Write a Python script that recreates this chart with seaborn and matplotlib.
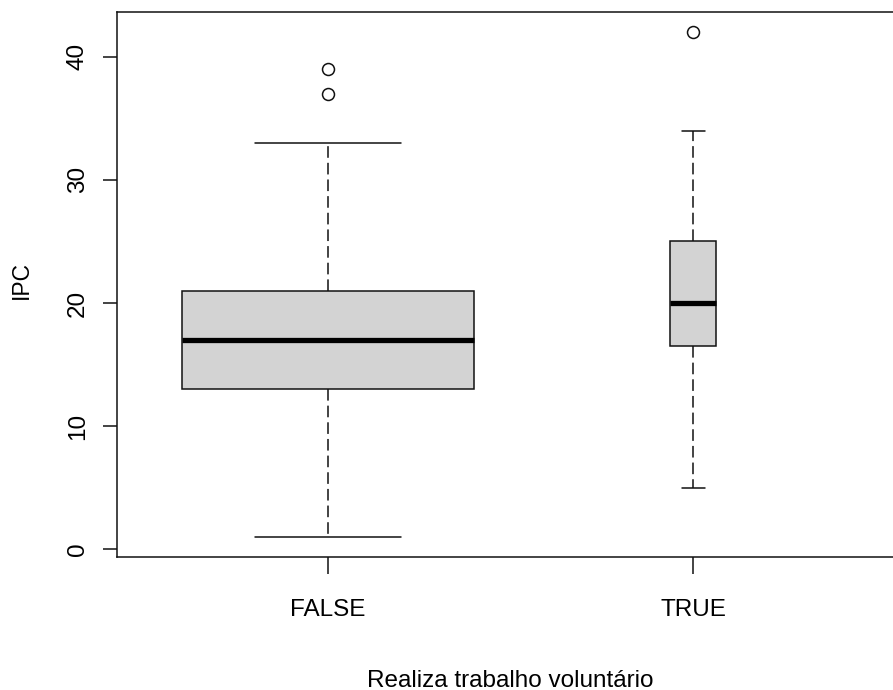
import matplotlib
matplotlib.use("Agg")
import matplotlib.pyplot as plt
import seaborn as sns
import pandas as pd

# ---- data ----
categories = ["FALSE", "TRUE"]
medians = [17, 20]
q1s = [13, 16.5]
q3s = [21, 25]
whisker_low = [1, 5]
whisker_high = [33, 34]
outliers = [[37, 39], [42]]
yticks = [0, 10, 20, 30, 40]
xlabel = "Realiza trabalho voluntário"
ylabel = "IPC"

# relative box widths (varwidth boxplot)
box_widths = [0.80, 0.126]

sns.set_style("white")
plt.rcParams["font.family"] = ["Liberation Sans", "DejaVu Sans"]
plt.rcParams["text.color"] = "black"
plt.rcParams["axes.labelcolor"] = "black"

stats_df = pd.DataFrame({
    "label": categories, "med": medians, "q1": q1s, "q3": q3s,
    "whislo": whisker_low, "whishi": whisker_high,
})
stats = []
for i, row in stats_df.iterrows():
    d = row.to_dict()
    d["fliers"] = outliers[i]
    stats.append(d)

fig = plt.figure(figsize=(8.93, 6.90), dpi=100)
ax = fig.add_axes([116.5 / 893, 133 / 690, (904.7 - 116.5) / 893, 545 / 690])

edge = "#111111"
lw = 1.1
positions = list(range(1, len(categories) + 1))
ax.bxp(
    stats, positions=positions, widths=box_widths,
    capwidths=[w / 2 for w in box_widths],
    patch_artist=True, showfliers=True,
    boxprops=dict(facecolor="#D3D3D3", edgecolor=edge, linewidth=lw),
    medianprops=dict(color="black", linewidth=3.8, solid_capstyle="butt"),
    whiskerprops=dict(color=edge, linewidth=lw, linestyle=(0, (7.6, 3.3))),
    capprops=dict(color=edge, linewidth=lw),
    flierprops=dict(marker="o", markerfacecolor="none", markeredgecolor=edge,
                    markersize=8.6, markeredgewidth=1.1),
)

ax.set_xlim(0.42, 2.58)
ax.set_ylim(-0.64, 43.64)

for s in ax.spines.values():
    s.set_visible(True)
    s.set_color(edge)
    s.set_linewidth(lw)

ax.set_xticks(positions)
ax.set_xticklabels(categories, fontsize=17.5)
ax.set_yticks(yticks)
ax.set_yticklabels([str(v) for v in yticks], fontsize=17.5, rotation=90, va="center")
ax.tick_params(axis="x", length=12.2, width=lw, color=edge, pad=18, direction="out",
               bottom=True, labelcolor="black")
ax.tick_params(axis="y", length=10.4, width=lw, color=edge, pad=9.5, direction="out",
               left=True, labelcolor="black")

ax.set_xlabel(xlabel, fontsize=17.5, color="black")
ax.xaxis.label.set_va("baseline")
ax.xaxis.set_label_coords(0.5, (690 - 686.7 - 133) / 545)

ax.set_ylabel(ylabel, fontsize=16.5, color="black")
ax.yaxis.label.set_rotation_mode("anchor")
ax.yaxis.label.set_va("baseline")
ax.yaxis.label.set_ha("center")
ax.yaxis.set_label_coords((28.3 - 116.5) / 788.2, (690 - 280 - 133) / 545)

fig.savefig("out.png", dpi=100, facecolor="white")
